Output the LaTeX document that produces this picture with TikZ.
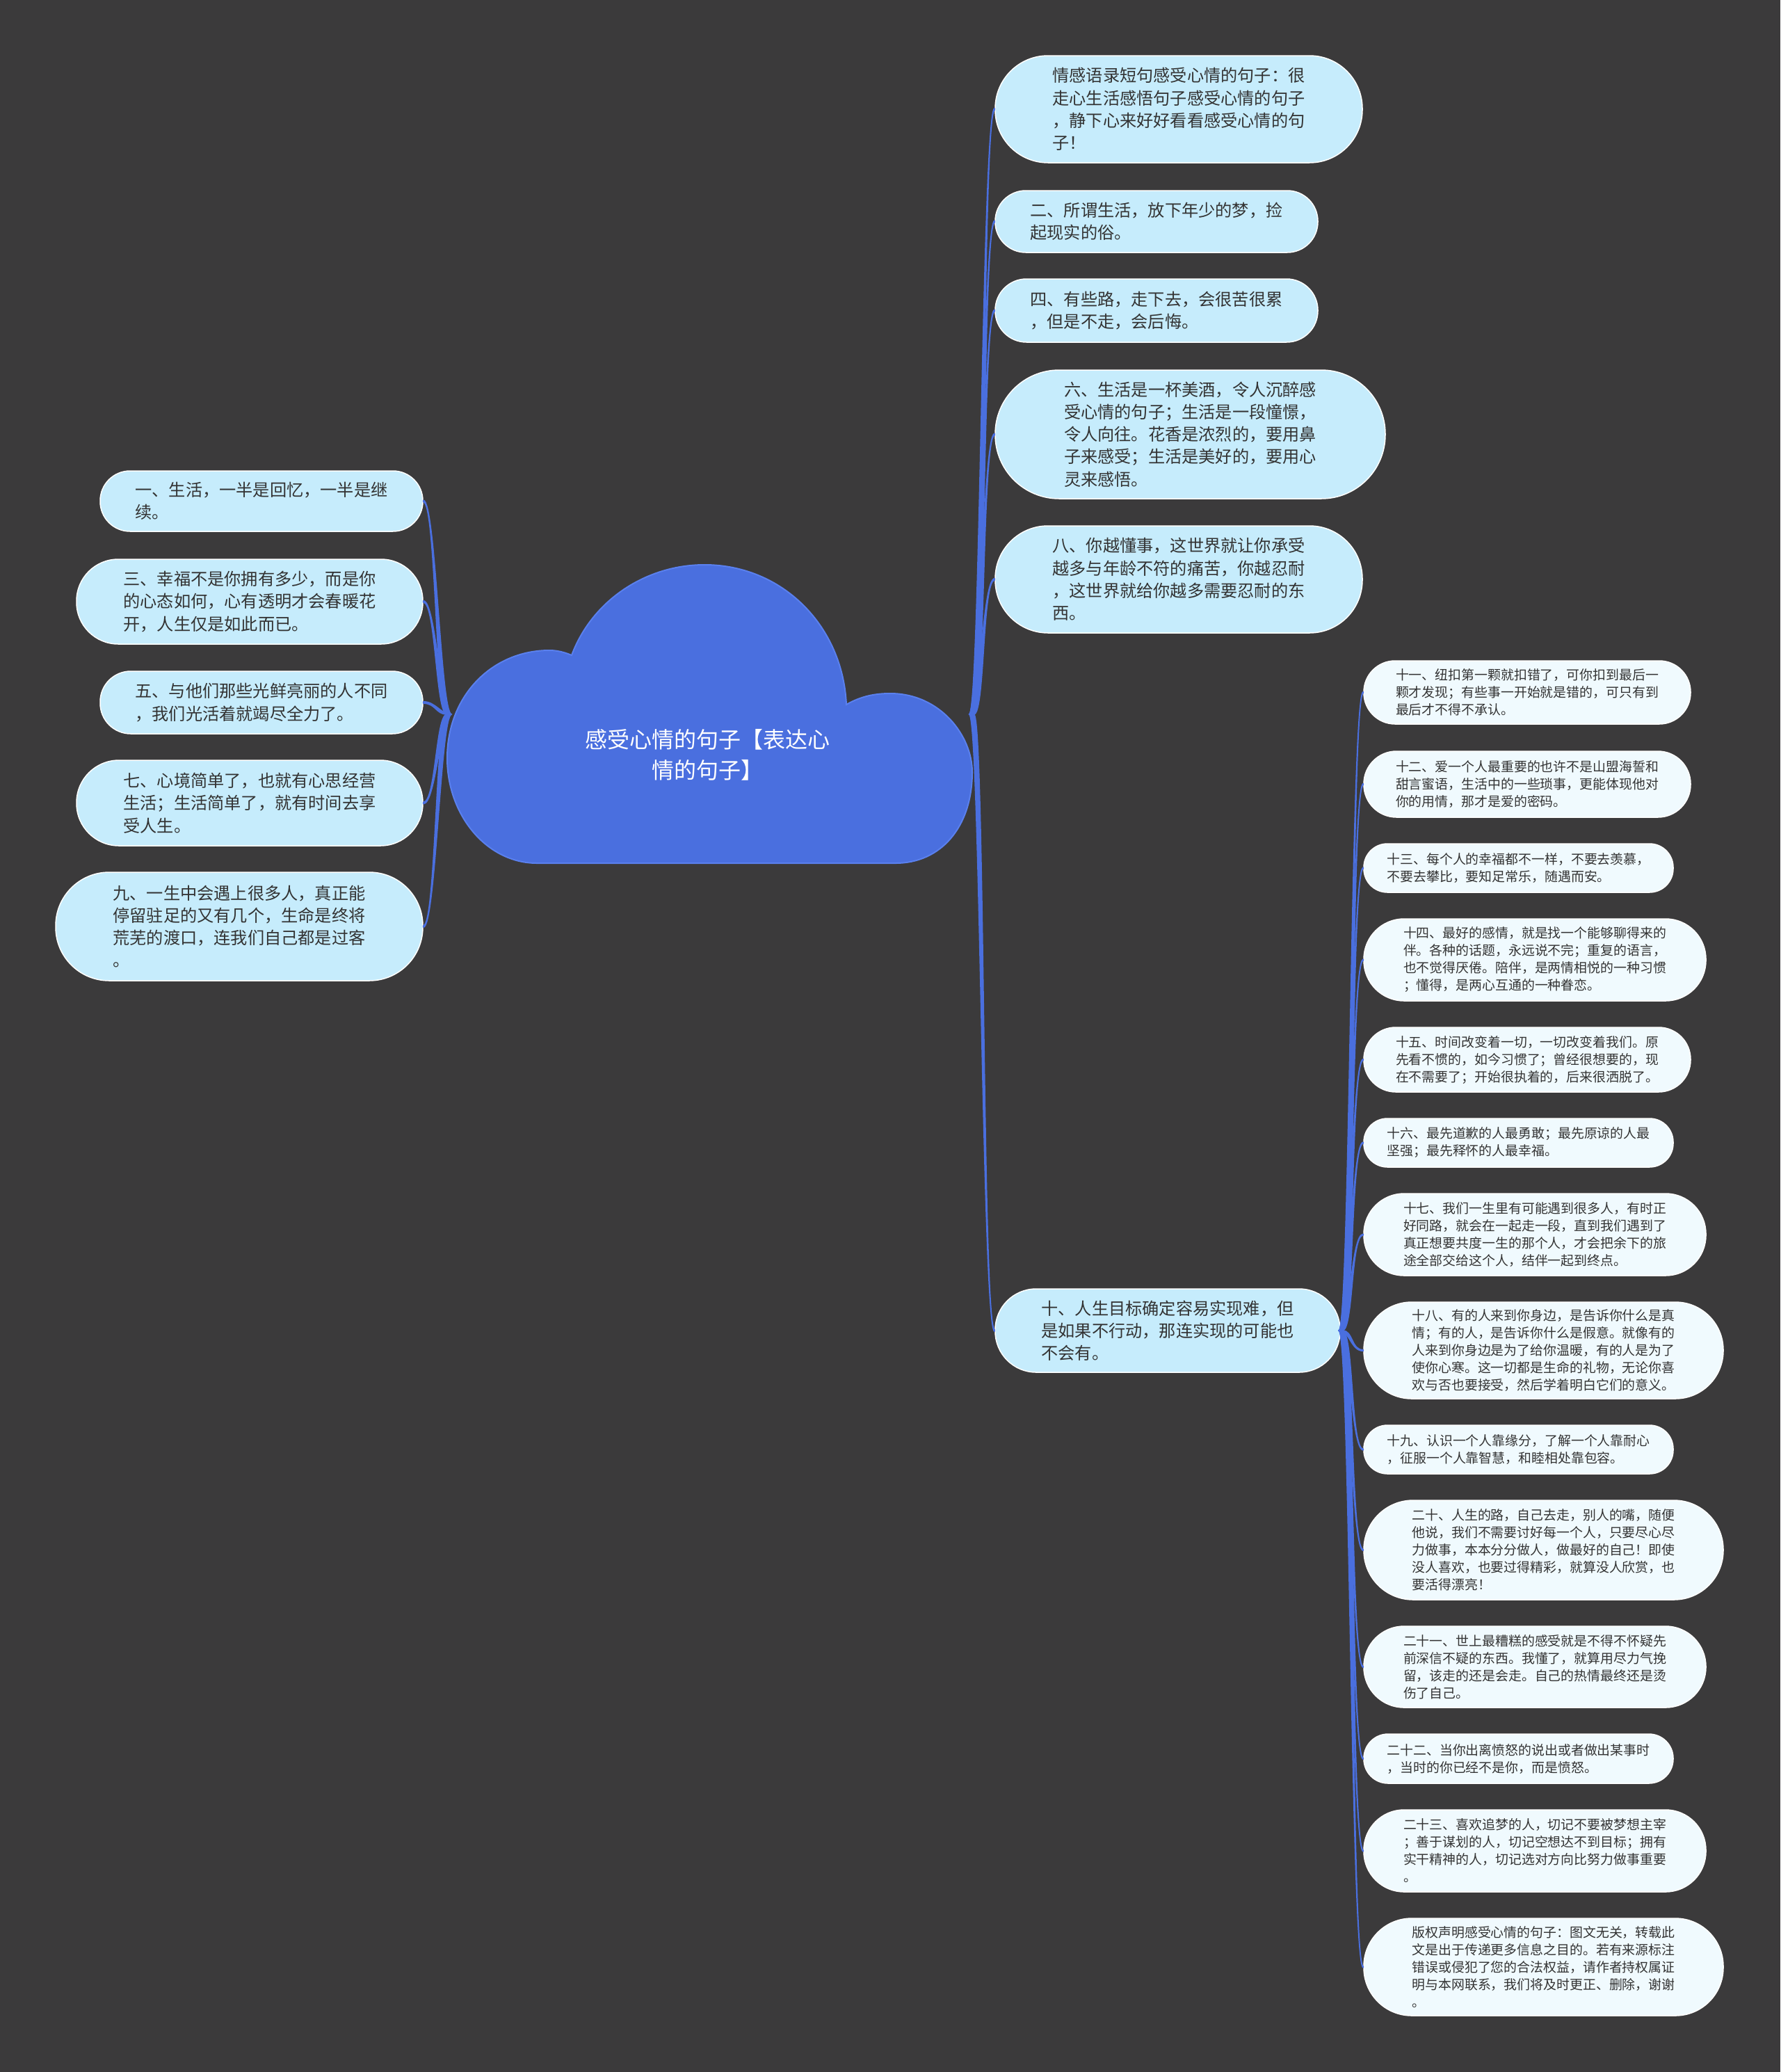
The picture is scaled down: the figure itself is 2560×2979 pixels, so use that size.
\documentclass[tikz,border=0pt]{standalone}
\usepackage{fontspec}
\setmainfont{Noto Sans CJK SC}
\usetikzlibrary{calc}
\definecolor{bg}{HTML}{3B3A3B}
\definecolor{blue}{HTML}{4A6FDF}
\definecolor{cloudedge}{HTML}{5A80EE}
\definecolor{fillA}{HTML}{C6ECFC}
\definecolor{fillB}{HTML}{F0FAFE}
\definecolor{txt}{HTML}{333333}
\tikzset{
  lvlA/.style={draw=white, line width=1.5, fill=fillA, text=txt, align=left, inner sep=0pt,
    font=\fontsize{24.2}{32.3}\selectfont},
  lvlB/.style={draw=white, line width=1.5, fill=fillB, text=txt, align=left, inner sep=0pt,
    font=\fontsize{18.9}{25}\selectfont},
  conn/.style={fill=blue, draw=blue, line width=1.6, line join=round},
}
% tapered connector: #1 start, #2 end, #3 half width at start, #4 signed half width at end,
% #5 start control dx, #6 end control dx
\newcommand{\tconn}[6]{%
  \filldraw[conn] ($(#1)+(-#3,0)$) .. controls +(#5,0) and +(#6,0) .. ($(#2)-(0,#4)$)
    -- ($(#2)+(0,#4)$) .. controls +(#6,0) and +(#5,0) .. ($(#1)+(#3,0)$) -- cycle;}
\begin{document}
\begin{tikzpicture}[x=1pt,y=-1pt]
\fill[bg] (0,0) rectangle (2560,2979);
\useasboundingbox (0,0) rectangle (2560,2979);

% cloud
\filldraw[fill=blue, draw=cloudedge, line width=2]
  (822,942) .. controls (852,862) and (930,812) .. (1013,812)
  .. controls (1125,812) and (1212,900) .. (1217,1013)
  .. controls (1238,1001) and (1258,997) .. (1280,997)
  .. controls (1352,997) and (1398,1058) .. (1398,1110)
  .. controls (1398,1190) and (1352,1241) .. (1288,1241)
  -- (772,1241)
  .. controls (700,1241) and (643,1172) .. (643,1090)
  .. controls (643,1000) and (708,935) .. (790,935)
  .. controls (802,935) and (812,938) .. (822,942) -- cycle;
\node[text=white, align=center, font=\fontsize{32}{44}\selectfont] (title) at (1017,1085)
  {感受心情的句子【表达心\\情的句子】};
\coordinate (rootR) at (1397,1027);
\coordinate (rootL) at (646,1027);

% left nodes
\node[lvlA, minimum width=464, minimum height=87, rounded corners=43] (l1) at (376,720.5)
  {一、生活，一半是回忆，一半是继\\续。};
\node[lvlA, minimum width=498, minimum height=122, rounded corners=60] (l2) at (359,865)
  {三、幸福不是你拥有多少，而是你\\的心态如何，心有透明才会春暖花\\开，人生仅是如此而已。};
\node[lvlA, minimum width=464, minimum height=90, rounded corners=44] (l3) at (376,1010)
  {五、与他们那些光鲜亮丽的人不同\\，我们光活着就竭尽全力了。};
\node[lvlA, minimum width=498, minimum height=123, rounded corners=61] (l4) at (359,1154.5)
  {七、心境简单了，也就有心思经营\\生活；生活简单了，就有时间去享\\受人生。};
\node[lvlA, minimum width=528, minimum height=156, rounded corners=77] (l5) at (344,1332)
  {九、一生中会遇上很多人，真正能\\停留驻足的又有几个，生命是终将\\荒芜的渡口，连我们自己都是过客\\。};

% right level-1 nodes
\node[lvlA, minimum width=528, minimum height=154, rounded corners=76] (r1) at (1695,157)
  {情感语录短句感受心情的句子：很\\走心生活感悟句子感受心情的句子\\，静下心来好好看看感受心情的句\\子！};
\node[lvlA, minimum width=464, minimum height=89, rounded corners=44] (r2) at (1663,318.5)
  {二、所谓生活，放下年少的梦，捡\\起现实的俗。};
\node[lvlA, minimum width=464, minimum height=91, rounded corners=45] (r3) at (1663,446.5)
  {四、有些路，走下去，会很苦很累\\，但是不走，会后悔。};
\node[lvlA, minimum width=561, minimum height=185, rounded corners=92] (r4) at (1711.5,624.5)
  {六、生活是一杯美酒，令人沉醉感\\受心情的句子；生活是一段憧憬，\\令人向往。花香是浓烈的，要用鼻\\子来感受；生活是美好的，要用心\\灵来感悟。};
\node[lvlA, minimum width=528, minimum height=154, rounded corners=76] (r5) at (1695,833)
  {八、你越懂事，这世界就让你承受\\越多与年龄不符的痛苦，你越忍耐\\，这世界就给你越多需要忍耐的东\\西。};
\node[lvlA, minimum width=496, minimum height=120, rounded corners=59] (r6) at (1679,1913)
  {十、人生目标确定容易实现难，但\\是如果不行动，那连实现的可能也\\不会有。};

% level-2 nodes
\node[lvlB, minimum width=470, minimum height=91, rounded corners=45] (c1) at (2196,995.5)
  {十一、纽扣第一颗就扣错了，可你扣到最后一\\颗才发现；有些事一开始就是错的，可只有到\\最后才不得不承认。};
\node[lvlB, minimum width=470, minimum height=95, rounded corners=47] (c2) at (2196,1127.5)
  {十二、爱一个人最重要的也许不是山盟海誓和\\甜言蜜语，生活中的一些琐事，更能体现他对\\你的用情，那才是爱的密码。};
\node[lvlB, minimum width=445, minimum height=70, rounded corners=34] (c3) at (2183.5,1248)
  {十三、每个人的幸福都不一样，不要去羡慕，\\不要去攀比，要知足常乐，随遇而安。};
\node[lvlB, minimum width=492, minimum height=118, rounded corners=58] (c4) at (2207,1380)
  {十四、最好的感情，就是找一个能够聊得来的\\伴。各种的话题，永远说不完；重复的语言，\\也不觉得厌倦。陪伴，是两情相悦的一种习惯\\；懂得，是两心互通的一种眷恋。};
\node[lvlB, minimum width=470, minimum height=93, rounded corners=46] (c5) at (2196,1523.5)
  {十五、时间改变着一切，一切改变着我们。原\\先看不惯的，如今习惯了；曾经很想要的，现\\在不需要了；开始很执着的，后来很洒脱了。};
\node[lvlB, minimum width=445, minimum height=70, rounded corners=34] (c6) at (2183.5,1643)
  {十六、最先道歉的人最勇敢；最先原谅的人最\\坚强；最先释怀的人最幸福。};
\node[lvlB, minimum width=492, minimum height=118, rounded corners=58] (c7) at (2207,1775)
  {十七、我们一生里有可能遇到很多人，有时正\\好同路，就会在一起走一段，直到我们遇到了\\真正想要共度一生的那个人，才会把余下的旅\\途全部交给这个人，结伴一起到终点。};
\node[lvlB, minimum width=517, minimum height=139, rounded corners=69] (c8) at (2219.5,1941.5)
  {十八、有的人来到你身边，是告诉你什么是真\\情；有的人，是告诉你什么是假意。就像有的\\人来到你身边是为了给你温暖，有的人是为了\\使你心寒。这一切都是生命的礼物，无论你喜\\欢与否也要接受，然后学着明白它们的意义。};
\node[lvlB, minimum width=445, minimum height=70, rounded corners=34] (c9) at (2183.5,2084)
  {十九、认识一个人靠缘分，了解一个人靠耐心\\，征服一个人靠智慧，和睦相处靠包容。};
\node[lvlB, minimum width=517, minimum height=143, rounded corners=71] (c10) at (2219.5,2228.5)
  {二十、人生的路，自己去走，别人的嘴，随便\\他说，我们不需要讨好每一个人，只要尽心尽\\力做事，本本分分做人，做最好的自己！即使\\没人喜欢，也要过得精彩，就算没人欣赏，也\\要活得漂亮！};
\node[lvlB, minimum width=492, minimum height=117, rounded corners=58] (c11) at (2207,2396.5)
  {二十一、世上最糟糕的感受就是不得不怀疑先\\前深信不疑的东西。我懂了，就算用尽力气挽\\留，该走的还是会走。自己的热情最终还是烫\\伤了自己。};
\node[lvlB, minimum width=445, minimum height=71, rounded corners=35] (c12) at (2183.5,2528.5)
  {二十二、当你出离愤怒的说出或者做出某事时\\，当时的你已经不是你，而是愤怒。};
\node[lvlB, minimum width=492, minimum height=118, rounded corners=58] (c13) at (2207,2661)
  {二十三、喜欢追梦的人，切记不要被梦想主宰\\；善于谋划的人，切记空想达不到目标；拥有\\实干精神的人，切记选对方向比努力做事重要\\。};
\node[lvlB, minimum width=517, minimum height=140, rounded corners=69] (c14) at (2219.5,2828)
  {版权声明感受心情的句子：图文无关，转载此\\文是出于传递更多信息之目的。若有来源标注\\错误或侵犯了您的合法权益，请作者持权属证\\明与本网联系，我们将及时更正、删除，谢谢\\。};

% connectors (tapered)
\foreach \n/\s in {l1/-1.2,l2/-1.2,l3/-1.2,l4/1.2,l5/1.2}
  {\tconn{rootL}{\n.east}{3.4}{\s}{-16}{18}}
\foreach \n/\s in {r1/1.2,r2/1.2,r3/1.2,r4/1.2,r5/1.2,r6/-1.2}
  {\tconn{rootR}{\n.west}{3.4}{\s}{16}{-18}}
\foreach \n/\s in {c1/0.8,c2/0.8,c3/0.8,c4/0.8,c5/0.8,c6/0.8,c7/0.8,c8/-0.8,c9/-0.8,c10/-0.8,c11/-0.8,c12/-0.8,c13/-0.8,c14/-0.8}
  {\tconn{r6.east}{\n.west}{2.6}{\s}{16}{-18}}
\end{tikzpicture}
\end{document}
